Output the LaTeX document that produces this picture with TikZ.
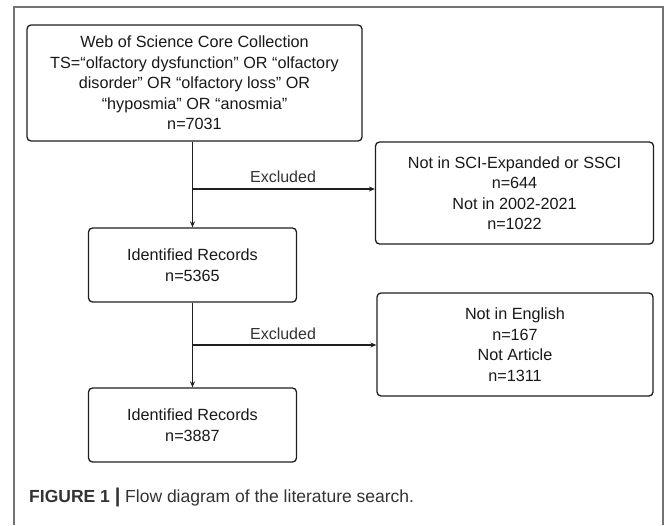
\documentclass[tikz,border=0pt]{standalone}
\usepackage{fontspec}
\setmainfont{Liberation Sans}
\usetikzlibrary{arrows.meta}
\begin{document}
\begin{tikzpicture}[x=1pt,y=-1pt,
  flowbox/.style={draw=black!88, line width=1.3pt, rounded corners=4pt, align=center,
    inner sep=0pt, font=\fontsize{16.2}{20.5}\selectfont, text=black!90},
  link/.style={draw=black!88, line width=1.2pt, -{Stealth[length=6pt,width=5pt]}},
  exlabel/.style={font=\fontsize{16}{18}\selectfont, text=black!80, inner sep=0pt}]
\useasboundingbox (0,0) rectangle (669,525);
\fill[white] (0,0) rectangle (669,525);
% outer frame (open at the bottom)
\draw[black!55, line width=1.2pt] (14,525) -- (14,7) -- (663,7) -- (663,525);

\node[flowbox, minimum width=335pt, minimum height=116pt] (top) at (194.5,83)
  {Web of Science Core Collection\\
   TS=“olfactory dysfunction” OR “olfactory\\
   disorder” OR “olfactory loss” OR\\
   “hyposmia” OR “anosmia”\\
   n=7031};
\node[flowbox, minimum width=208pt, minimum height=74pt] (mid) at (192.5,265)
  {Identified Records\\ n=5365};
\node[flowbox, minimum width=208pt, minimum height=74pt] (bot) at (192.5,425)
  {Identified Records\\ n=3887};
\node[flowbox, minimum width=278pt, minimum height=102pt] (ex1) at (514.5,193)
  {Not in SCI-Expanded  or SSCI\\ n=644\\ Not in 2002-2021\\ n=1022};
\node[flowbox, minimum width=276pt, minimum height=103pt] (ex2) at (515,344.5)
  {Not in English\\ n=167\\ Not Article\\ n=1311};

\coordinate (j1) at (193,189);
\coordinate (j2) at (193,345);
\draw[link] (mid.north |- top.south) -- (mid.north);
\draw[link] (j1) -- (j1 -| ex1.west);
\draw[link] (mid.south) -- (bot.north);
\draw[link] (j2) -- (j2 -| ex2.west);

\node[exlabel] (lab1) at (283,177) {Excluded};
\node[exlabel] (lab2) at (283,334) {Excluded};

\node[anchor=base west, inner sep=0pt, text=black!80, font=\fontsize{17.5}{20}\selectfont] (cap) at (29,502)
  {\textbf{FIGURE 1} {\fontsize{20}{20}\selectfont\textbf{|}} Flow diagram of the literature search.};
\end{tikzpicture}
\end{document}
